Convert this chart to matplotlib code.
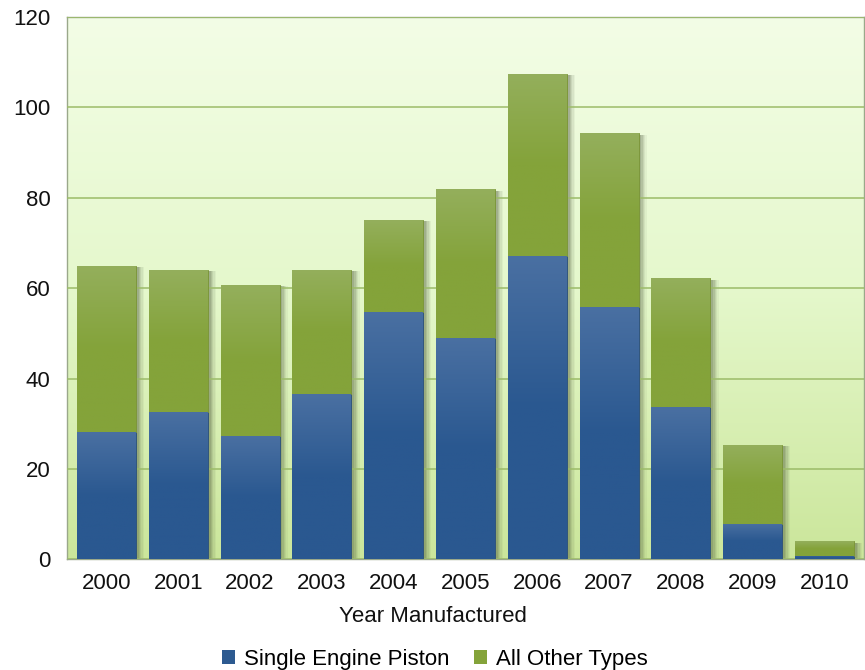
import numpy as np
import matplotlib
matplotlib.use("Agg")
import matplotlib.pyplot as plt
import matplotlib.patheffects as pe
from matplotlib.colors import LinearSegmentedColormap
from matplotlib.patches import Patch

years = ["2000", "2001", "2002", "2003", "2004", "2005", "2006", "2007", "2008", "2009", "2010"]
single_engine = [28.1, 32.7, 27.3, 36.5, 54.8, 49.0, 67.1, 55.8, 33.6, 7.8, 0.8]
totals = [64.9, 64.0, 60.7, 64.0, 75.1, 81.9, 107.4, 94.3, 62.2, 25.3, 4.0]
other_types = [t - s for t, s in zip(totals, single_engine)]
yticks = [0, 20, 40, 60, 80, 100, 120]

plt.rcParams['font.family'] = ['Liberation Sans', 'DejaVu Sans']
FS = 16

fig = plt.figure(figsize=(8.65, 6.7), dpi=100)
ax = fig.add_axes([67/865, 1-559.3/670, (864-67)/865, (559.3-17)/670])

x = np.arange(len(years))
ax.set_xlim(-0.55, 10.55)
ax.set_ylim(0, 120)

# background gradient
bg = LinearSegmentedColormap.from_list("bg", ["#cbe69b", "#e5f8cc", "#f3fde6"])
grad = np.linspace(0, 1, 256).reshape(-1, 1)
ax.imshow(grad, cmap=bg, origin="lower", aspect="auto",
          extent=[-0.55, 10.55, 0, 120], zorder=0)

ax.set_yticks(yticks)
ax.grid(axis="y", color="#9cbc68", linewidth=1.1, zorder=1)
ax.set_axisbelow(False)

w = 0.82
b1 = ax.bar(x, single_engine, w, color="#2d5a90", edgecolor="#2a4f7a", linewidth=0.6,
            zorder=3, label="Single Engine Piston")
b2 = ax.bar(x, other_types, w, bottom=single_engine, color="#84a33a", edgecolor="#7a9436",
            linewidth=0.6, zorder=3, label="All Other Types")

blue_cm = LinearSegmentedColormap.from_list("bl", ["#2a5890", "#2a5890", "#4a70a2"])
green_cm = LinearSegmentedColormap.from_list("gr", ["#84a33a", "#84a33a", "#94af5c"])

for bars, cm in ((b2, green_cm), (b1, blue_cm)):
    for p in bars:
        if p.get_height() <= 0:
            continue
        x0, y0, ww, hh = p.get_x(), p.get_y(), p.get_width(), p.get_height()
        im = ax.imshow(grad, cmap=cm, origin="lower", aspect="auto",
                       extent=[x0, x0 + ww, y0, y0 + hh], zorder=3.5)
        im.set_clip_path(p)

# soft shadows behind bars
effects = [pe.SimplePatchShadow(offset=(dx, -1), shadow_rgbFace="#4a5538", alpha=a)
           for dx, a in ((6, 0.06), (5, 0.08), (4, 0.10), (3, 0.14), (2, 0.16))]
for i in range(len(years)):
    sh = ax.bar(x[i], totals[i], w, color="#e0e0e0", linewidth=0, zorder=2.5)
    sh[0].set_path_effects(effects)
    sh[0].set_alpha(0.0)

for s in ax.spines.values():
    s.set_color("#9aa88a")
    s.set_linewidth(1.0)

ax.set_xticks(x)
ax.set_xticklabels(years)
ax.tick_params(axis="both", length=0, labelsize=FS, colors="#111111")
ax.tick_params(axis="x", pad=10)
ax.tick_params(axis="y", pad=12)
ax.set_xlabel("Year Manufactured", fontsize=FS, color="#111111")
ax.xaxis.set_label_coords((432.5 - 67) / 797, -(617 - 559.3) / 542.3)
ax.xaxis.label.set_verticalalignment("center")

handles = [Patch(facecolor="#2d5a90", edgecolor="none"), Patch(facecolor="#84a33a", edgecolor="none")]
fig.legend(handles, ["Single Engine Piston", "All Other Types"], loc="center",
           bbox_to_anchor=(435/865, 1-659/670), ncol=2, frameon=False, fontsize=FS,
           handlelength=0.6, handleheight=0.6, handletextpad=0.4, columnspacing=1.1)

fig.savefig("out.png", dpi=100)
